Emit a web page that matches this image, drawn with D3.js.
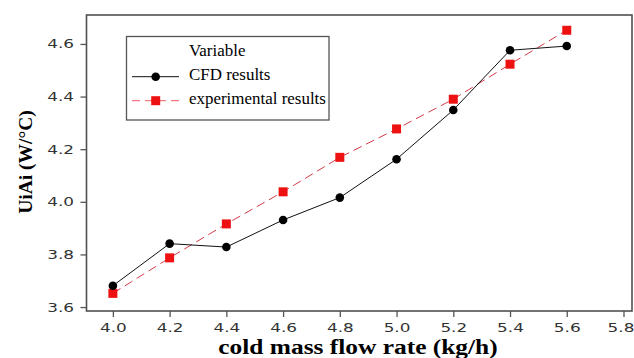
<!DOCTYPE html>
<html>
<head>
<meta charset="utf-8">
<script src="https://cdn.jsdelivr.net/npm/d3@7"></script>
<style>
  body { margin: 0; background: #fff; }
  svg { display: block; }
</style>
</head>
<body>
<div id="chart"></div>
<script>
// values
const flowRates = [4.0, 4.2, 4.4, 4.6, 4.8, 5.0, 5.2, 5.4, 5.6]
const cfdResults = [3.681, 3.841, 3.828, 3.931, 4.016, 4.162, 4.349, 4.576, 4.592]
const expResults = [3.652, 3.787, 3.916, 4.038, 4.169, 4.277, 4.39, 4.523, 4.652]
const xTicks = [4.0, 4.2, 4.4, 4.6, 4.8, 5.0, 5.2, 5.4, 5.6, 5.8]
const yTicks = [3.6, 3.8, 4.0, 4.2, 4.4, 4.6]
const legendLabels = ["CFD results", "experimental results"]

let dimensions = {
    width: 634,
    height: 358,
    margin: { top: 15, right: 2, bottom: 47, left: 86.5 },
}
dimensions.boundedWidth = dimensions.width - dimensions.margin.left - dimensions.margin.right
dimensions.boundedHeight = dimensions.height - dimensions.margin.top - dimensions.margin.bottom

const svg = d3.select("#chart").append("svg")
    .attr("width", dimensions.width)
    .attr("height", dimensions.height)

const bounds = svg.append("g")
    .attr("transform", `translate(${dimensions.margin.left},${dimensions.margin.top})`)

const x = d3.scaleLinear()
    .domain([3.907, 5.83])
    .range([0, dimensions.boundedWidth])

const y = d3.scaleLinear()
    .domain([3.585, 4.71])
    .range([dimensions.boundedHeight, 0])

// axes (tick text is stretched sideways like in the picture)
const stretch = 1.35
const xAxis = bounds.append("g")
    .attr("transform", `translate(0,${dimensions.boundedHeight})`)
    .call(d3.axisBottom(x).tickValues(xTicks).tickFormat(d3.format(".1f")).tickSize(6).tickSizeOuter(0))
const yAxis = bounds.append("g")
    .call(d3.axisLeft(y).tickValues(yTicks).tickFormat(d3.format(".1f")).tickSize(6).tickSizeOuter(0))

for (const ax of [xAxis, yAxis]) {
    ax.select(".domain").remove()
    ax.selectAll("line").attr("stroke", "#555").attr("stroke-width", 1.3)
    ax.selectAll("text")
        .attr("fill", "#333")
        .attr("transform", `scale(${stretch},1)`)
        .style("font-family", "DejaVu Sans")
        .style("font-size", "12.5px")
}
xAxis.selectAll("text").attr("dy", "0.98em")
// last label sits right against the edge of the picture
xAxis.selectAll("text").filter(d => d === 5.8).attr("x", -3 / stretch)
yAxis.selectAll("text").attr("x", -12.5 / stretch)

// frame
bounds.append("rect")
    .attr("width", dimensions.boundedWidth)
    .attr("height", dimensions.boundedHeight)
    .attr("fill", "none")
    .attr("stroke", "#505050")
    .attr("stroke-width", 1.6)

// lines
const line = d3.line()
    .x((d, i) => x(flowRates[i]))
    .y(d => y(d))

bounds.append("path")
    .datum(expResults)
    .attr("d", line)
    .attr("fill", "none")
    .attr("stroke", "#d23a48")
    .attr("stroke-width", 1)
    .attr("stroke-dasharray", "9,5")

bounds.append("path")
    .datum(cfdResults)
    .attr("d", line)
    .attr("fill", "none")
    .attr("stroke", "#111")
    .attr("stroke-width", 1)

bounds.selectAll(".exp")
    .data(expResults)
    .enter()
    .append("rect")
    .attr("class", "exp")
    .attr("x", (d, i) => x(flowRates[i]) - 4.5)
    .attr("y", d => y(d) - 4.5)
    .attr("width", 9)
    .attr("height", 9)
    .attr("fill", "#ee1111")

bounds.selectAll(".cfd")
    .data(cfdResults)
    .enter()
    .append("circle")
    .attr("class", "cfd")
    .attr("cx", (d, i) => x(flowRates[i]))
    .attr("cy", d => y(d))
    .attr("r", 4.3)
    .attr("fill", "#000")

// legend
const serif = "Liberation Serif, Times New Roman, serif"
const legend = svg.append("g")
legend.append("rect")
    .attr("x", 126.5).attr("y", 36.5)
    .attr("width", 202.5).attr("height", 83.5)
    .attr("fill", "#fff")
    .attr("stroke", "#555")
    .attr("stroke-width", 1.3)

legend.append("text")
    .attr("transform", "translate(189,55.7) scale(1.06,1)")
    .style("font-family", serif).style("font-size", "16px")
    .text("Variable")

legend.append("line")
    .attr("x1", 132).attr("x2", 179).attr("y1", 76.7).attr("y2", 76.7)
    .attr("stroke", "#111")
legend.append("circle")
    .attr("cx", 155.7).attr("cy", 76.7).attr("r", 4.3).attr("fill", "#000")

legend.append("line")
    .attr("x1", 132).attr("x2", 179).attr("y1", 100.7).attr("y2", 100.7)
    .attr("stroke", "#f05a64")
    .attr("stroke-dasharray", "8,5")
legend.append("rect")
    .attr("x", 151.2).attr("y", 96.2).attr("width", 9).attr("height", 9)
    .attr("fill", "#ee1111")

legend.selectAll(".lab")
    .data(legendLabels)
    .enter()
    .append("text")
    .attr("class", "lab")
    .attr("transform", (d, i) => `translate(189,${80.3 + i * 24}) scale(1.06,1)`)
    .style("font-family", serif).style("font-size", "16px")
    .text(d => d)

// axis titles
svg.append("text")
    .attr("transform", "translate(358,354) scale(1.27,1)")
    .attr("text-anchor", "middle")
    .style("font-family", serif).style("font-size", "20px").style("font-weight", "bold")
    .text("cold mass flow rate (kg/h)")

svg.append("text")
    .attr("transform", "translate(32,162) rotate(-90)")
    .attr("text-anchor", "middle")
    .style("font-family", serif).style("font-size", "19.5px").style("font-weight", "bold")
    .text("UiAi (W/°C)")
</script>
</body>
</html>
